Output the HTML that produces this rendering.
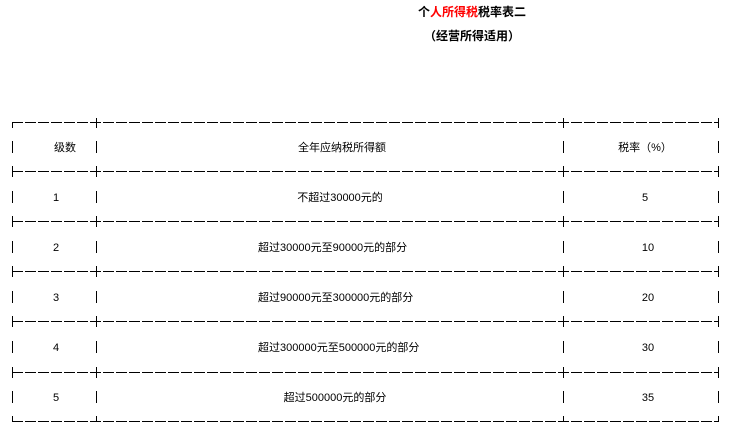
<!DOCTYPE html>
<html><head><meta charset="utf-8"><style>
body{margin:0;background:#fff;width:754px;height:439px;overflow:hidden}
svg{position:absolute;left:0;top:0}
text{font-family:"Liberation Sans","Noto Sans CJK SC",sans-serif;font-size:11px;fill:#000}
</style></head><body>
<svg width="754" height="439" xmlns="http://www.w3.org/2000/svg">
<text x="472" y="16" text-anchor="middle" style="font-size:12px;font-weight:bold"><tspan fill="#000">个</tspan><tspan fill="#ff0000">人所得税</tspan><tspan fill="#000">税率表二</tspan></text>
<text x="472" y="40" text-anchor="middle" style="font-size:12px;font-weight:bold">（经营所得适用）</text>
<g stroke="#000" stroke-width="1" fill="none" shape-rendering="crispEdges">
<g stroke-dasharray="11,2">
<line x1="12" y1="122.5" x2="719" y2="122.5"/>
<line x1="12" y1="171.5" x2="719" y2="171.5"/>
<line x1="12" y1="221.5" x2="719" y2="221.5"/>
<line x1="12" y1="271.5" x2="719" y2="271.5"/>
<line x1="12" y1="321.5" x2="719" y2="321.5"/>
<line x1="12" y1="372.5" x2="719" y2="372.5"/>
<line x1="12" y1="421.5" x2="719" y2="421.5"/>
</g>
<path d="M12.5 122V128M96.5 118V128M563.5 118V128M718.5 118V128
M12.5 166V177M96.5 166V177M563.5 166V177M718.5 166V177
M12.5 216V227M96.5 216V227M563.5 216V227M718.5 216V227
M12.5 266V277M96.5 266V277M563.5 266V277M718.5 266V277
M12.5 316V327M96.5 316V327M563.5 316V327M718.5 316V327
M12.5 367V378M96.5 367V378M563.5 367V378M718.5 367V378
M12.5 416V422M96.5 416V422M563.5 416V422M718.5 416V422
M12.5 141V153M96.5 141V153M563.5 141V153M718.5 141V153
M12.5 191V203M96.5 191V203M563.5 191V203M718.5 191V203
M12.5 241V253M96.5 241V253M563.5 241V253M718.5 241V253
M12.5 291V303M96.5 291V303M563.5 291V303M718.5 291V303
M12.5 341V353M96.5 341V353M563.5 341V353M718.5 341V353
M12.5 391V403M96.5 391V403M563.5 391V403M718.5 391V403"/>
</g>
<g text-anchor="middle">
<text x="65" y="151">级数</text><text x="342" y="151">全年应纳税所得额</text><text x="645" y="151">税率（%）</text>
<text x="56" y="201">1</text><text x="340" y="201">不超过30000元的</text><text x="645" y="201">5</text>
<text x="56" y="251">2</text><text x="648" y="251">10</text>
<text x="56" y="301">3</text><text x="648" y="301">20</text>
<text x="56" y="351">4</text><text x="648" y="351">30</text>
<text x="56" y="401">5</text><text x="335" y="401">超过500000元的部分</text><text x="648" y="401">35</text>
</g>
<text x="258" y="251">超过30000元至90000元的部分</text>
<text x="258" y="301">超过90000元至300000元的部分</text>
<text x="258" y="351">超过300000元至500000元的部分</text>
</svg>
</body></html>
